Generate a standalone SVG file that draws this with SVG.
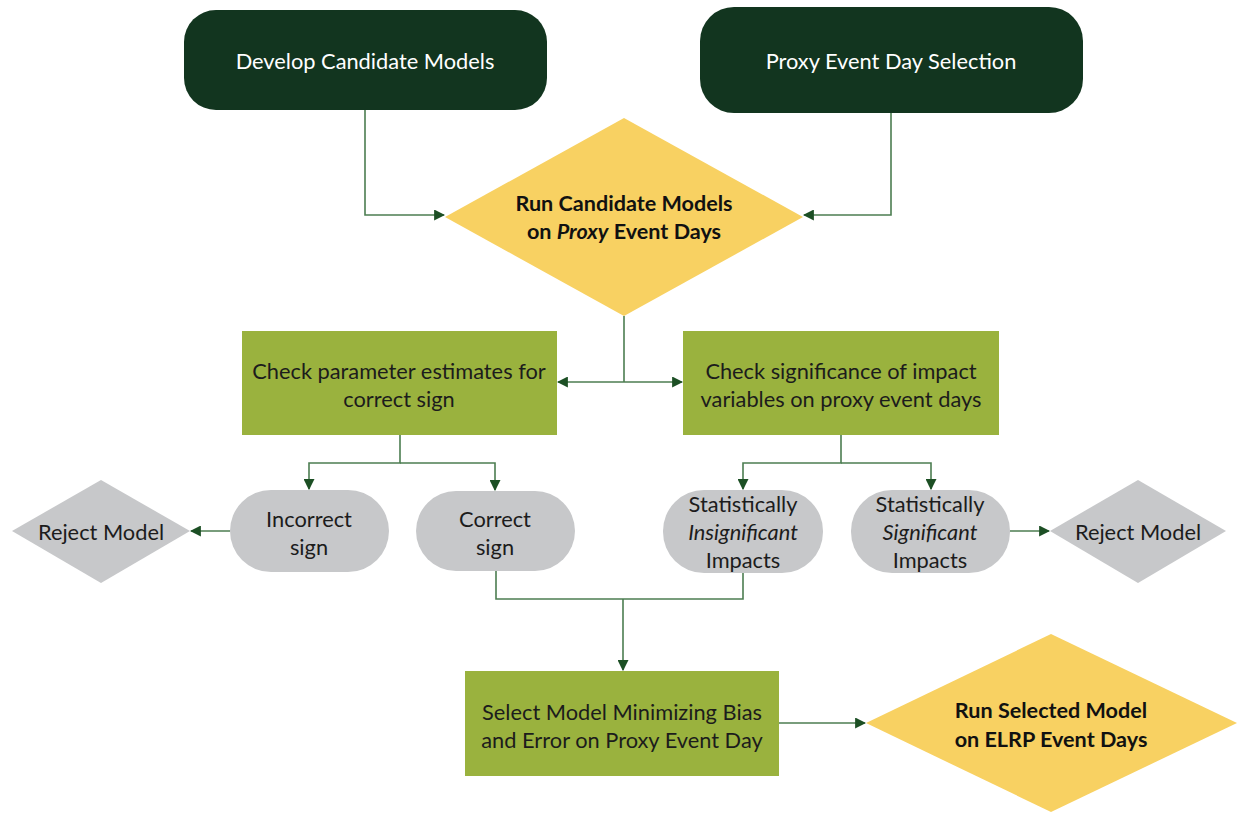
<svg xmlns="http://www.w3.org/2000/svg" width="1238" height="814" viewBox="0 0 1238 814">
  <style>
    text { font-family: Lato, "Open Sans", "Liberation Sans", sans-serif; text-anchor: middle; dominant-baseline: central; }
    .start { fill: #12351f; }
    .start-t { fill: #ffffff; font-size: 21.8px; }
    .decision { fill: #f8d162; }
    .decision-t { fill: #111111; font-size: 21.6px; font-weight: bold; }
    .step { fill: #9ab23e; }
    .step-t { fill: #1c1c1c; font-size: 21.8px; }
    .outcome { fill: #c7c8ca; }
    .outcome-t { fill: #1c1c1c; font-size: 21.8px; }
    .link { fill: none; stroke: #4c7d51; stroke-width: 1.6; }
  </style>
  <defs>
    <marker id="arrow" viewBox="0 0 10 10" refX="9" refY="5" markerWidth="11" markerHeight="11" markerUnits="userSpaceOnUse" orient="auto">
      <path d="M0,0 L10,5 L0,10 Z" fill="#1c4f24"/>
    </marker>
  </defs>

  <rect width="1238" height="814" fill="#ffffff"/>

  <!-- connectors -->
  <g id="connectors" class="link">
    <polyline points="365,110 365,215 444,215" marker-end="url(#arrow)"/>
    <polyline points="891,113 891,215 804,215" marker-end="url(#arrow)"/>
    <line x1="624" y1="316" x2="624" y2="382"/>
    <line x1="624" y1="382" x2="558" y2="382" marker-end="url(#arrow)"/>
    <line x1="624" y1="382" x2="682" y2="382" marker-end="url(#arrow)"/>
    <polyline points="400,435 400,463 309,463 309,489" marker-end="url(#arrow)"/>
    <polyline points="400,463 495,463 495,490" marker-end="url(#arrow)"/>
    <line x1="230" y1="531" x2="191" y2="531" marker-end="url(#arrow)"/>
    <polyline points="841,435 841,463 743,463 743,489" marker-end="url(#arrow)"/>
    <polyline points="841,463 931,463 931,489" marker-end="url(#arrow)"/>
    <line x1="1010" y1="531" x2="1049" y2="531" marker-end="url(#arrow)"/>
    <polyline points="496,571 496,599 743,599 743,573"/>
    <line x1="623" y1="599" x2="623" y2="670" marker-end="url(#arrow)"/>
    <line x1="779" y1="723" x2="865" y2="723" marker-end="url(#arrow)"/>
  </g>

  <g id="develop-candidate-models">
    <rect class="start" x="184" y="10" width="363" height="100" rx="32"/>
    <text class="start-t" x="365" y="60">Develop Candidate Models</text>
  </g>

  <g id="proxy-event-day-selection">
    <rect class="start" x="700" y="7" width="383" height="106" rx="34"/>
    <text class="start-t" x="891" y="60">Proxy Event Day Selection</text>
  </g>

  <g id="run-candidate-models">
    <polygon class="decision" points="624,118 803,217 624,316 445,217"/>
    <text class="decision-t" x="624" y="203">Run Candidate Models</text>
    <text class="decision-t" x="624" y="231">on <tspan font-style="italic">Proxy</tspan> Event Days</text>
  </g>

  <g id="check-parameter-estimates">
    <rect class="step" x="242" y="331" width="315" height="104"/>
    <text class="step-t" x="399" y="370">Check parameter estimates for</text>
    <text class="step-t" x="399" y="398">correct sign</text>
  </g>

  <g id="check-significance">
    <rect class="step" x="683" y="331" width="316" height="104"/>
    <text class="step-t" x="841" y="370">Check significance of impact</text>
    <text class="step-t" x="841" y="398">variables on proxy event days</text>
  </g>

  <g id="reject-model-left">
    <polygon class="outcome" points="101,480 190,531 101,583 12,531"/>
    <text class="outcome-t" x="101" y="531">Reject Model</text>
  </g>

  <g id="incorrect-sign">
    <rect class="outcome" x="230" y="490" width="159" height="82" rx="41"/>
    <text class="outcome-t" x="309" y="518">Incorrect</text>
    <text class="outcome-t" x="309" y="546">sign</text>
  </g>

  <g id="correct-sign">
    <rect class="outcome" x="416" y="491" width="159" height="80" rx="40"/>
    <text class="outcome-t" x="495" y="518">Correct</text>
    <text class="outcome-t" x="495" y="546">sign</text>
  </g>

  <g id="statistically-insignificant">
    <rect class="outcome" x="663" y="490" width="160" height="83" rx="41"/>
    <text class="outcome-t" x="743" y="503">Statistically</text>
    <text class="outcome-t" x="743" y="531" font-style="italic">Insignificant</text>
    <text class="outcome-t" x="743" y="559">Impacts</text>
  </g>

  <g id="statistically-significant">
    <rect class="outcome" x="851" y="490" width="159" height="83" rx="41"/>
    <text class="outcome-t" x="930" y="503">Statistically</text>
    <text class="outcome-t" x="930" y="531" font-style="italic">Significant</text>
    <text class="outcome-t" x="930" y="559">Impacts</text>
  </g>

  <g id="reject-model-right">
    <polygon class="outcome" points="1138,480 1226,531 1138,583 1050,531"/>
    <text class="outcome-t" x="1138" y="531">Reject Model</text>
  </g>

  <g id="select-model">
    <rect class="step" x="465" y="671" width="314" height="105"/>
    <text class="step-t" x="622" y="711">Select Model Minimizing Bias</text>
    <text class="step-t" x="622" y="739">and Error on Proxy Event Day</text>
  </g>

  <g id="run-selected-model">
    <polygon class="decision" points="1051,634 1237,723 1051,812 866,723"/>
    <text class="decision-t" x="1051" y="710">Run Selected Model</text>
    <text class="decision-t" x="1051" y="739">on ELRP Event Days</text>
  </g>
</svg>
